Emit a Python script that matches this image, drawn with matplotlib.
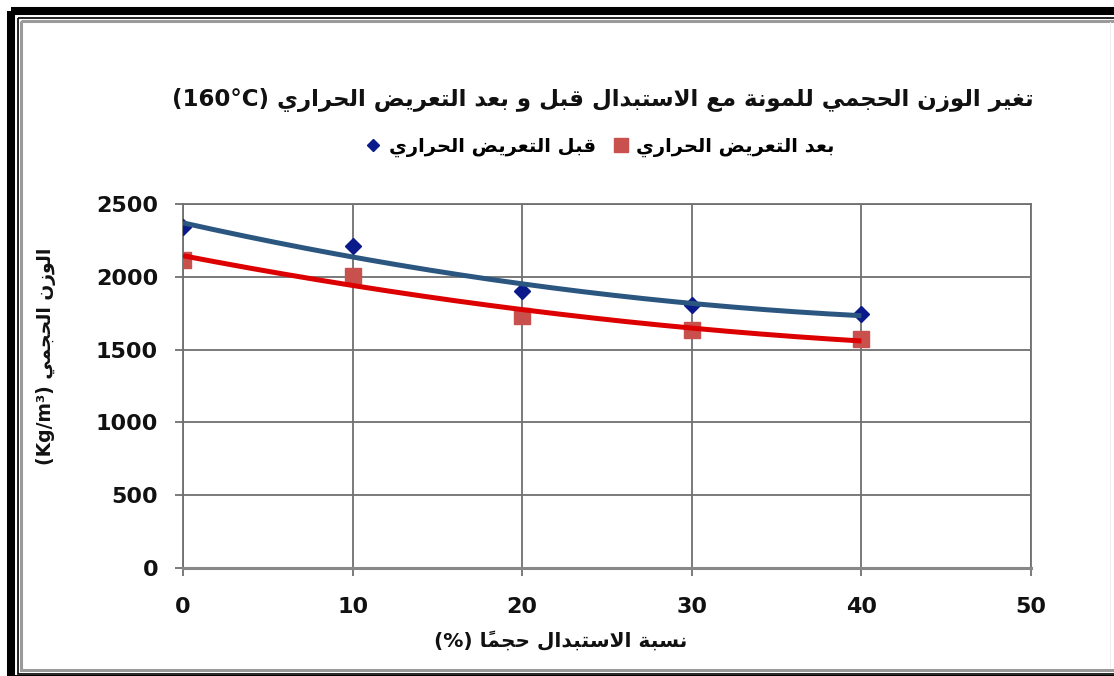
import numpy as np
import matplotlib
matplotlib.use("Agg")
import matplotlib.pyplot as plt
from matplotlib.lines import Line2D
from matplotlib.patches import Rectangle

# ---------------------------------------------------------------- data
replacement_pct = [0, 10, 20, 30, 40]
density_before = [2340, 2214, 1900, 1808, 1746]   # قبل التعريض الحراري
density_after = [2118, 2008, 1733, 1636, 1572]    # بعد التعريض الحراري

x_ticks = [0, 10, 20, 30, 40, 50]
y_ticks = [0, 500, 1000, 1500, 2000, 2500]

title_ar = "تغير الوزن الحجمي للمونة مع الاستبدال قبل و بعد التعريض الحراري"
title_tail = "(160°C)"
legend_before = "قبل التعريض الحراري"
legend_after = "بعد التعريض الحراري"
xlabel_ar = "نسبة الاستبدال حجماً"
xlabel_tail = "(%)"
ylabel_ar = "الوزن الحجمي"
ylabel_tail = "(Kg/m³)"

# ------------------------------------------------ minimal Arabic shaping
# contextual forms from the Arabic Presentation Forms-B block
DUAL = {'ب': 0xFE8F, 'ت': 0xFE95, 'ث': 0xFE99, 'ج': 0xFE9D, 'ح': 0xFEA1,
        'خ': 0xFEA5, 'س': 0xFEB1, 'ش': 0xFEB5, 'ص': 0xFEB9, 'ض': 0xFEBD,
        'ط': 0xFEC1, 'ظ': 0xFEC5, 'ع': 0xFEC9, 'غ': 0xFECD, 'ف': 0xFED1,
        'ق': 0xFED5, 'ك': 0xFED9, 'ل': 0xFEDD, 'م': 0xFEE1, 'ن': 0xFEE5,
        'ه': 0xFEE9, 'ي': 0xFEF1, 'ئ': 0xFE89}
RIGHT = {'ا': 0xFE8D, 'أ': 0xFE83, 'إ': 0xFE87, 'آ': 0xFE81, 'ة': 0xFE93,
         'د': 0xFEA9, 'ذ': 0xFEAB, 'ر': 0xFEAD, 'ز': 0xFEAF, 'و': 0xFEED,
         'ى': 0xFEEF, 'ؤ': 0xFE85}
LAM_ALEF = {'ا': 0xFEFB, 'أ': 0xFEF7, 'إ': 0xFEF9, 'آ': 0xFEF5}
MARKS = {chr(c) for c in range(0x064B, 0x0653)}


def shape_rtl(text):
    chars = list(text)
    n = len(chars)
    clusters = []
    i = 0
    while i < n:
        c = chars[i]
        if c in MARKS:
            if clusters:
                clusters[-1] += c
            else:
                clusters.append(c)
            i += 1
            continue
        if c not in DUAL and c not in RIGHT:
            clusters.append(c)
            i += 1
            continue
        j = i - 1
        while j >= 0 and chars[j] in MARKS:
            j -= 1
        prev_join = j >= 0 and chars[j] in DUAL
        k = i + 1
        while k < n and chars[k] in MARKS:
            k += 1
        nxt = chars[k] if k < n else None
        if c == 'ل' and nxt in LAM_ALEF:
            base = LAM_ALEF[nxt]
            clusters.append(chr(base + 1 if prev_join else base))
            i = k + 1
            continue
        if c in DUAL:
            next_join = nxt is not None and (nxt in DUAL or nxt in RIGHT)
            base = DUAL[c]
            if prev_join and next_join:
                form = base + 3
            elif prev_join:
                form = base + 1
            elif next_join:
                form = base + 2
            else:
                form = base
        else:
            base = RIGHT[c]
            form = base + 1 if prev_join else base
        clusters.append(chr(form))
        i += 1
    return "".join(reversed(clusters))


# ---------------------------------------------------------------- figure
W, H = 1114, 676
fig = plt.figure(figsize=(W / 100, H / 100), dpi=100, facecolor="white")

FONT = ["DejaVu Sans"]
TXT = "#111111"
GRID = "#707070"

ax = fig.add_axes([183 / W, 1 - 568 / H, (1031 - 183) / W, (568 - 204) / H])
ax.set_xlim(0, 50)
ax.set_ylim(0, 2500)
ax.set_xticks(x_ticks)
ax.set_yticks(y_ticks)
ax.grid(True, color=GRID, linewidth=1.3)
ax.set_axisbelow(True)
for s in ax.spines.values():
    s.set_color(GRID)
    s.set_linewidth(1.3)
ax.spines["bottom"].set_color("#888888")
ax.spines["bottom"].set_linewidth(2.2)
ax.tick_params(axis="y", direction="out", length=6, width=1.3, color=GRID,
               pad=12, labelsize=16, labelcolor=TXT)
ax.tick_params(axis="x", direction="out", length=6, width=1.3, color=GRID,
               pad=15, labelsize=16, labelcolor=TXT)
for lab in ax.get_xticklabels() + ax.get_yticklabels():
    lab.set_fontweight("bold")
    lab.set_family(FONT)

xv = np.array(replacement_pct, dtype=float)
# series markers
ax.plot(xv, density_before, linestyle="none", marker="D", markersize=8.5,
        color="#0a1a8a", zorder=3)
ax.plot(xv, density_after, linestyle="none", marker="s", markersize=12,
        color="#c8504d", zorder=3)
# second-order polynomial trend lines over the measured range
xs = np.linspace(xv.min(), xv.max(), 200)
fit_b = np.polyfit(xv, density_before, 2)
fit_a = np.polyfit(xv, density_after, 2)
ax.plot(xs, np.polyval(fit_b, xs), color="#2b5680", linewidth=3.6,
        solid_capstyle="butt", zorder=4)
ax.plot(xs, np.polyval(fit_a, xs), color="#dd0000", linewidth=3.6,
        solid_capstyle="butt", zorder=4)

# title, legend and axis titles
fig.text(603 / W, 1 - 100 / H, title_tail + " " + shape_rtl(title_ar),
         ha="center", va="center", fontsize=16.5, fontweight="bold",
         family=FONT, color=TXT)

handles = [Line2D([], [], linestyle="none", marker="D", markersize=6.5,
                  color="#0a1a8a"),
           Line2D([], [], linestyle="none", marker="s", markersize=9.5,
                  color="#c8504d")]
fig.legend(handles, [shape_rtl(legend_before), shape_rtl(legend_after)],
           loc="center", bbox_to_anchor=(600 / W, 1 - 147 / H), ncol=2,
           frameon=False, handlelength=0.8, handletextpad=0.4,
           columnspacing=0.9, prop={"family": FONT, "size": 14,
                                    "weight": "bold"})

fig.text(561 / W, 1 - 641 / H, xlabel_tail + " " + shape_rtl(xlabel_ar),
         ha="center", va="center", fontsize=14.5, fontweight="bold",
         family=FONT, color=TXT)
fig.text(46 / W, 1 - 356 / H, ylabel_tail + " " + shape_rtl(ylabel_ar),
         ha="center", va="center", rotation=90, fontsize=13.5,
         fontweight="bold", family=FONT, color=TXT)

# page frame: heavy outer rule, thin inner rule and grey inner shadow
frame = fig.add_axes([0, 0, 1, 1], zorder=-1)
frame.set_xlim(0, W)
frame.set_ylim(H, 0)
frame.axis("off")
frame.add_patch(Rectangle((11, 11), W + 40, H + 40, fill=False,
                          edgecolor="black", linewidth=5.8))
frame.add_patch(Rectangle((17.5, 17.5), W + 40, 656, fill=False,
                          edgecolor="black", linewidth=1.2))
frame.add_patch(Rectangle((20.5, 20.5), W + 40, 649, fill=False,
                          edgecolor="#9a9a9a", linewidth=2.2))
frame.add_patch(Rectangle((7, 675.3), W, 1, facecolor="black",
                          edgecolor="none"))
frame.add_patch(Rectangle((W - 4, 22), 1, 646, facecolor="#efefef",
                          edgecolor="none"))

fig.savefig("out.png", dpi=100, facecolor="white")
